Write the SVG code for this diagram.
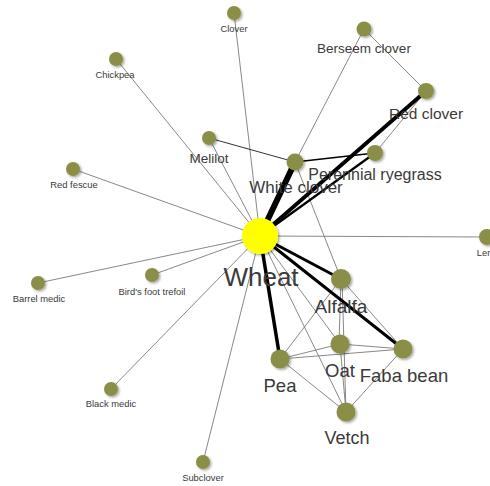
<svg xmlns="http://www.w3.org/2000/svg" width="490" height="486" viewBox="0 0 490 486">
<defs>
<filter id="sh" x="-50%" y="-50%" width="200%" height="200%">
<feDropShadow dx="1.5" dy="1.5" stdDeviation="1.2" flood-color="#000" flood-opacity="0.35"/>
</filter>
<style>
.n{fill:#8b8e47;filter:url(#sh)}
.w{fill:#ffff00;filter:url(#sh)}
.t{stroke:#7a7a7a;stroke-width:0.9;fill:none}
.k{stroke:#000;fill:none;stroke-linecap:round}
text{font-family:"Liberation Sans",Arial,sans-serif;fill:#3a3a3a;text-anchor:middle}
.s{font-size:9.4px}
</style>
</defs>
<rect width="490" height="486" fill="#fff"/>
<g id="connectors">
<line class="t" x1="260" y1="236" x2="234" y2="13"/>
<line class="t" x1="260" y1="236" x2="116" y2="59"/>
<line class="t" x1="260" y1="236" x2="73" y2="169"/>
<line class="t" x1="260" y1="236" x2="38" y2="283"/>
<line class="t" x1="260" y1="236" x2="152" y2="275"/>
<line class="t" x1="260" y1="236" x2="111" y2="389"/>
<line class="t" x1="260" y1="236" x2="203" y2="462"/>
<line class="t" x1="260" y1="236" x2="209" y2="138"/>
<line class="t" x1="260" y1="236" x2="487" y2="237"/>
<line class="t" x1="260" y1="236" x2="340" y2="344"/>
<line class="t" x1="260" y1="236" x2="346" y2="412"/>
<line class="t" x1="295" y1="162" x2="364" y2="29"/>
<line class="t" x1="364" y1="29" x2="426" y2="91"/>
<line class="t" x1="426" y1="91" x2="375" y2="153"/>
<line class="t" x1="295" y1="162" x2="341" y2="279"/>
<line class="k" stroke-width="1" x1="295" y1="162" x2="209" y2="138" style="stroke:#333"/>
<line class="k" stroke-width="1.5" x1="295" y1="162" x2="375" y2="153"/>
<line class="t" x1="341" y1="279" x2="339" y2="344"/>
<line class="t" x1="342" y1="279" x2="346" y2="412"/>
<line class="t" x1="341" y1="279" x2="280" y2="359"/>
<line class="t" x1="341" y1="279" x2="403" y2="349"/>
<line class="t" x1="340" y1="344" x2="280" y2="359"/>
<line class="t" x1="340" y1="344" x2="403" y2="349"/>
<line class="t" x1="340" y1="344" x2="346" y2="412"/>
<line class="t" x1="280" y1="359" x2="403" y2="349"/>
<line class="t" x1="280" y1="359" x2="346" y2="412"/>
<line class="t" x1="403" y1="349" x2="346" y2="412"/>
<line class="k" stroke-width="6" x1="260" y1="236" x2="295" y2="162"/>
<line class="k" stroke-width="3.8" x1="260" y1="236" x2="426" y2="91"/>
<line class="k" stroke-width="2.2" x1="260" y1="236" x2="375" y2="153"/>
<line class="k" stroke-width="3" x1="260" y1="236" x2="341" y2="279"/>
<line class="k" stroke-width="3" x1="260" y1="236" x2="403" y2="349"/>
<line class="k" stroke-width="3.5" x1="260" y1="236" x2="280" y2="359"/>
</g>
<g id="clover"><circle class="n" cx="234" cy="13" r="7"/><text class="s" x="234" y="32">Clover</text></g>
<g id="chickpea"><circle class="n" cx="116" cy="59" r="7"/><text class="s" x="115" y="78">Chickpea</text></g>
<g id="red-fescue"><circle class="n" cx="73" cy="169" r="7"/><text class="s" x="74" y="188">Red fescue</text></g>
<g id="barrel-medic"><circle class="n" cx="38" cy="283" r="7"/><text class="s" x="39" y="302">Barrel medic</text></g>
<g id="birds-foot-trefoil"><circle class="n" cx="152" cy="275" r="7"/><text class="s" x="152" y="295">Bird's foot trefoil</text></g>
<g id="black-medic"><circle class="n" cx="111" cy="389" r="7"/><text class="s" x="111" y="407">Black medic</text></g>
<g id="subclover"><circle class="n" cx="203" cy="462" r="7"/><text class="s" x="203" y="481">Subclover</text></g>
<g id="lentil"><circle class="n" cx="487" cy="237" r="8"/><text class="s" x="488" y="256">Lentil</text></g>
<g id="berseem-clover"><circle class="n" cx="364" cy="29" r="7.5"/><text x="364" y="53" font-size="13.5">Berseem clover</text></g>
<g id="red-clover"><circle class="n" cx="426" cy="91" r="8"/><text x="426" y="119" font-size="15.5">Red clover</text></g>
<g id="melilot"><circle class="n" cx="209" cy="138" r="7"/><text x="209" y="163" font-size="13.5">Melilot</text></g>
<g id="perennial-ryegrass"><circle class="n" cx="375" cy="153" r="8"/><text x="375" y="180" font-size="16">Perennial ryegrass</text></g>
<g id="white-clover"><circle class="n" cx="295" cy="162" r="8.5"/><text x="296" y="193" font-size="17">White clover</text></g>
<g id="alfalfa"><circle class="n" cx="341" cy="279" r="10"/><text x="341" y="313" font-size="19">Alfalfa</text></g>
<g id="oat"><circle class="n" cx="340" cy="344" r="9.5"/><text x="340" y="377" font-size="18.5">Oat</text></g>
<g id="faba-bean"><circle class="n" cx="403" cy="349" r="9.5"/><text x="404" y="382" font-size="18.5">Faba bean</text></g>
<g id="pea"><circle class="n" cx="280" cy="359" r="9.5"/><text x="280" y="392" font-size="18.5">Pea</text></g>
<g id="vetch"><circle class="n" cx="346" cy="412" r="9.5"/><text x="347" y="444" font-size="18">Vetch</text></g>
<g id="wheat"><circle class="w" cx="260" cy="236" r="18"/><text x="261" y="286" font-size="26">Wheat</text></g>
</svg>
